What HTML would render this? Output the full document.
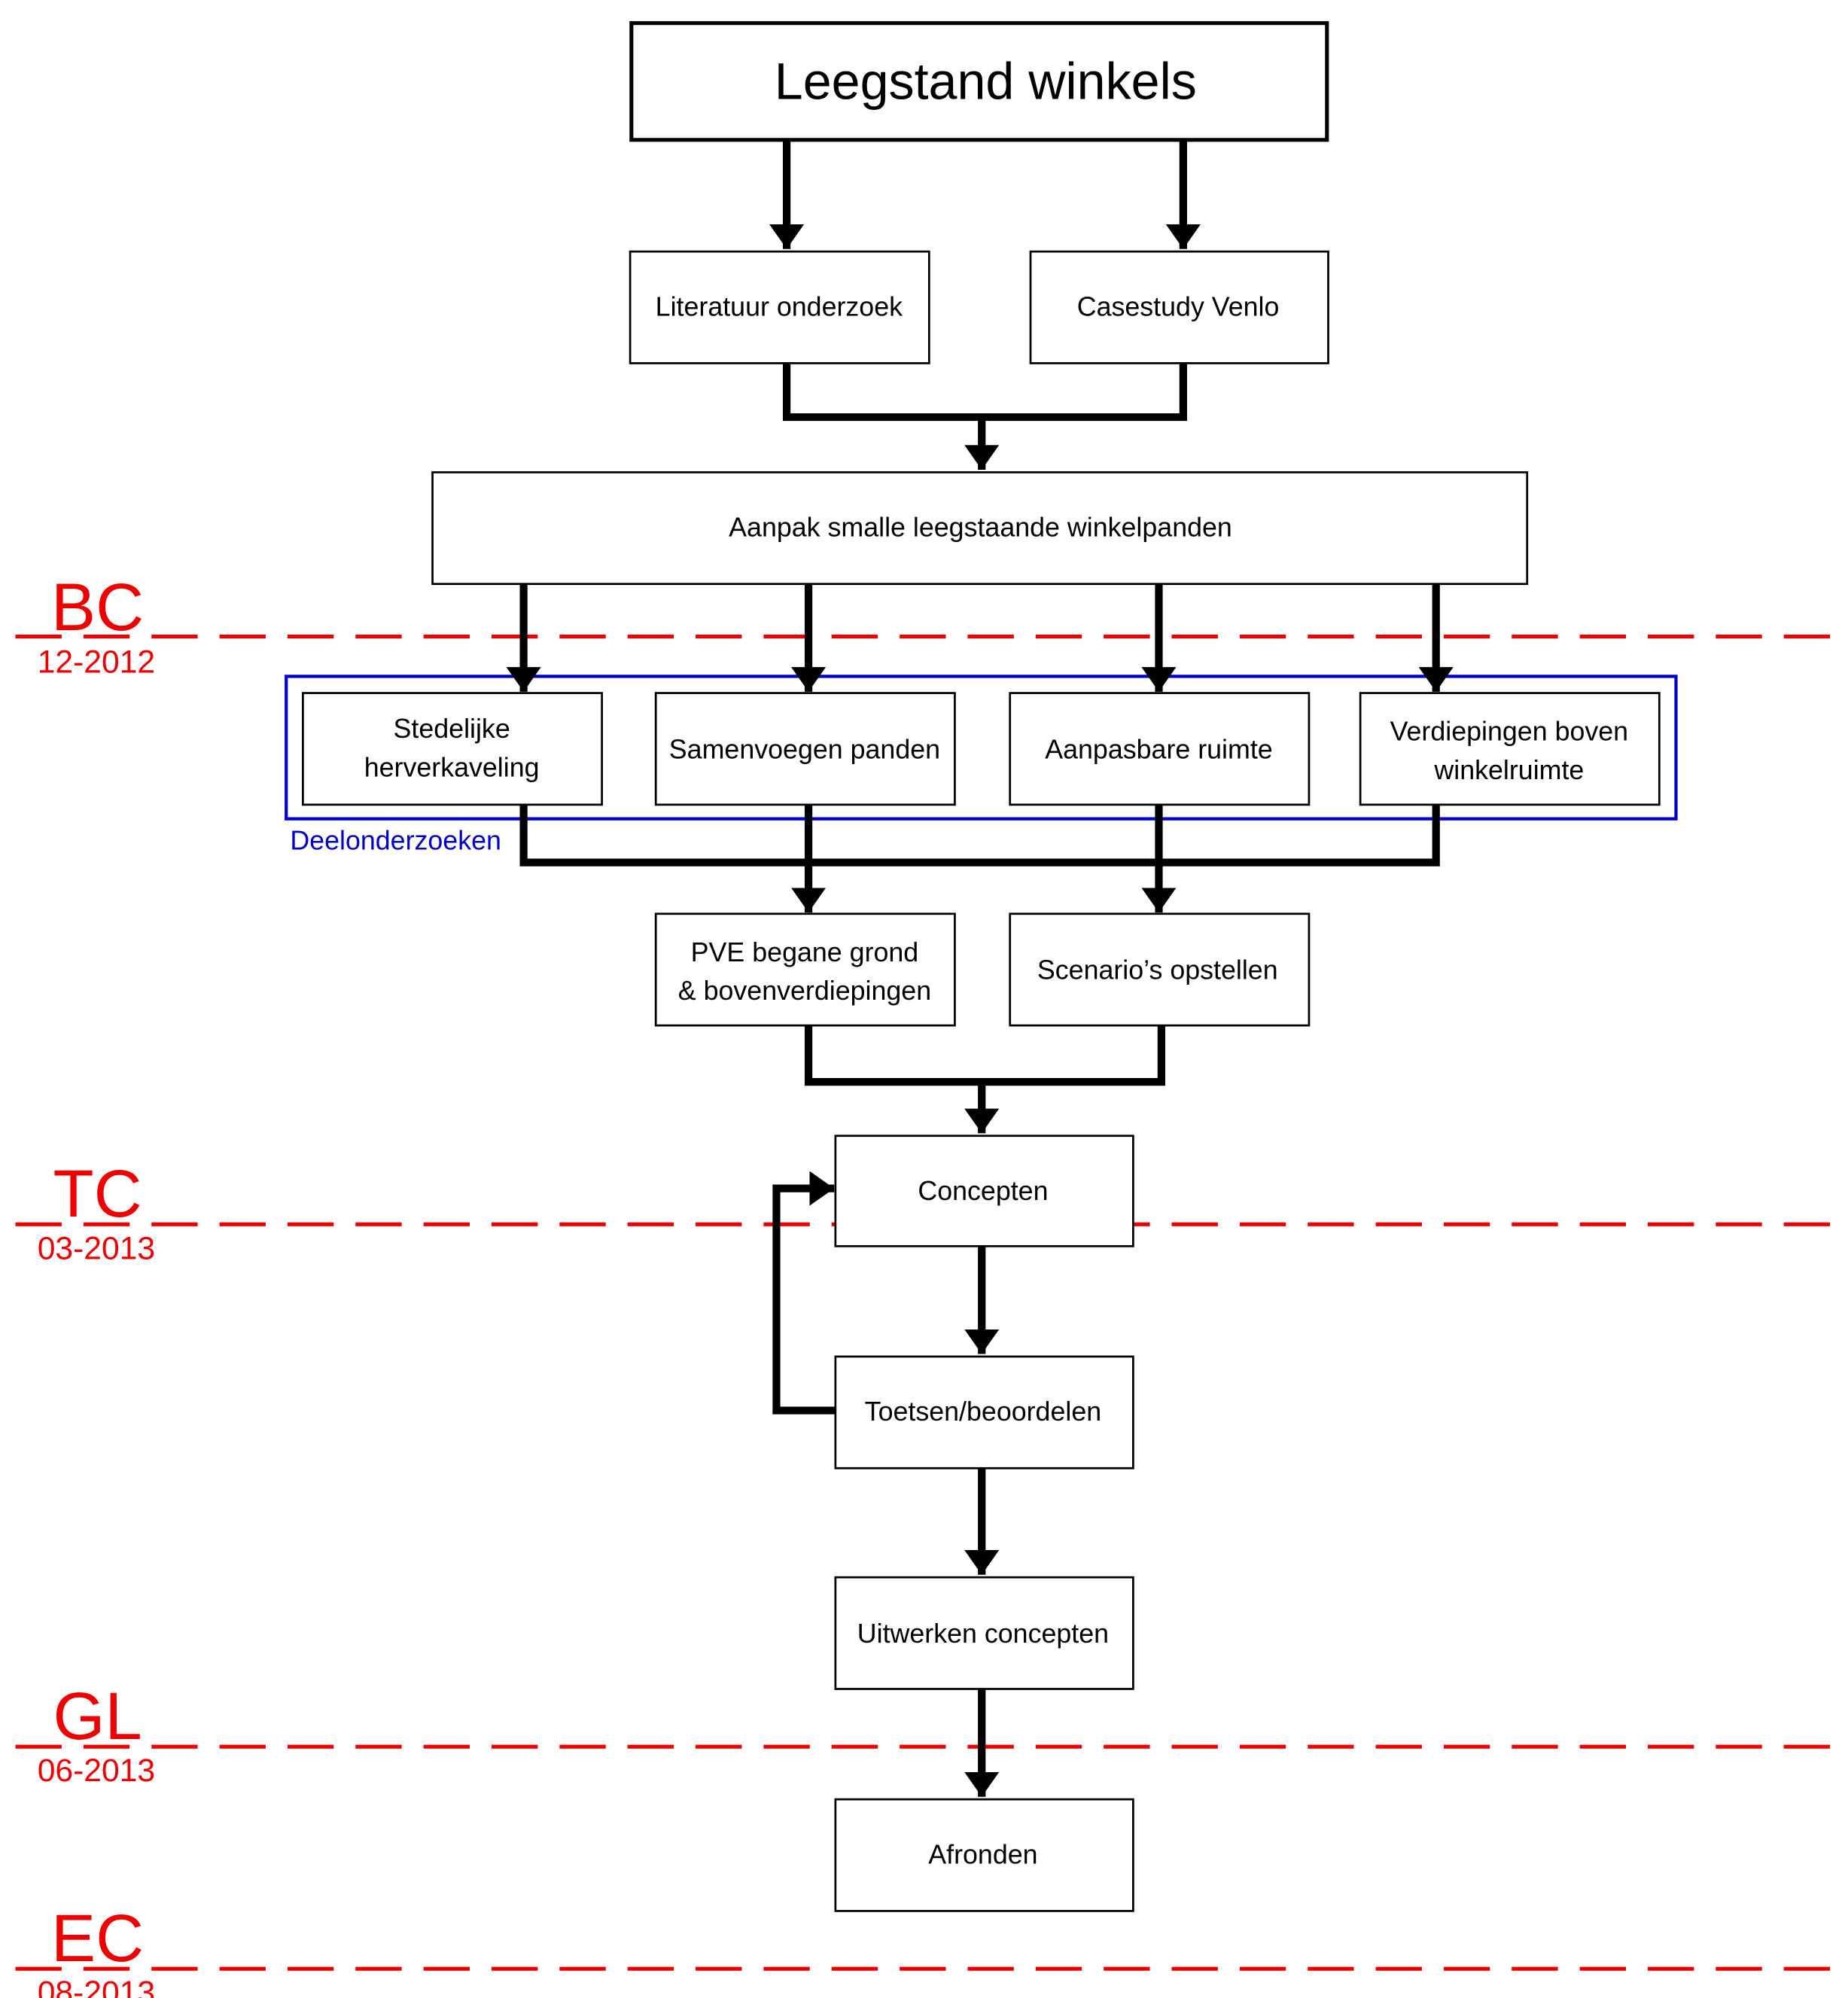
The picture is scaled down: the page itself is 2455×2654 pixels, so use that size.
<!DOCTYPE html>
<html><head><meta charset="utf-8"><style>html,body{margin:0;padding:0;background:#fff}svg{display:block}</style></head>
<body>
<svg xmlns="http://www.w3.org/2000/svg" width="2455" height="2654" viewBox="0 0 1440 1556.8">
<defs>
<marker id="a" viewBox="0 0 10 10" refX="10" refY="5" markerWidth="3.2" markerHeight="4.5" markerUnits="strokeWidth" orient="auto-start-reverse" preserveAspectRatio="none"><path d="M0,0 L10,5 L0,10 z" fill="#000"/></marker>
</defs>
<g font-family="Liberation Sans, sans-serif" text-anchor="middle">
<!-- red milestone lines -->
<g stroke="#e00" stroke-width="3" stroke-dasharray="36 17" fill="none">
<line x1="12" y1="496" x2="1440" y2="496"/>
<line x1="12" y1="954" x2="1440" y2="954"/>
<line x1="12" y1="1361" x2="1440" y2="1361"/>
<line x1="12" y1="1534" x2="1440" y2="1534"/>
</g>
<g fill="#e00">
<text x="76" y="491" font-size="52">BC</text><text x="75" y="524" font-size="25">12-2012</text>
<text x="76" y="948" font-size="52">TC</text><text x="75" y="981" font-size="25">03-2013</text>
<text x="76" y="1355" font-size="52">GL</text><text x="75" y="1388" font-size="25">06-2013</text>
<text x="76" y="1528" font-size="52">EC</text><text x="75" y="1561" font-size="25">08-2013</text>
</g>
<!-- blue group -->
<rect x="223" y="527" width="1083" height="111" fill="none" stroke="#00c" stroke-width="2.5"/>
<text x="226" y="662" font-size="21" fill="#00c" text-anchor="start">Deelonderzoeken</text>
<!-- connectors -->
<g stroke="#000" stroke-width="6" fill="none">
<line x1="613" y1="109" x2="613" y2="194" marker-end="url(#a)"/>
<line x1="922" y1="109" x2="922" y2="194" marker-end="url(#a)"/>
<polyline points="613,283 613,325 922,325 922,283"/>
<line x1="765" y1="325" x2="765" y2="366" marker-end="url(#a)"/>
<line x1="408" y1="455" x2="408" y2="539" marker-end="url(#a)"/>
<line x1="630" y1="455" x2="630" y2="539" marker-end="url(#a)"/>
<line x1="903" y1="455" x2="903" y2="539" marker-end="url(#a)"/>
<line x1="1119" y1="455" x2="1119" y2="539" marker-end="url(#a)"/>
<polyline points="408,627 408,672 1119,672 1119,627"/>
<line x1="630" y1="627" x2="630" y2="711" marker-end="url(#a)"/>
<line x1="903" y1="627" x2="903" y2="711" marker-end="url(#a)"/>
<polyline points="630,799 630,843 905,843 905,799"/>
<line x1="765" y1="843" x2="765" y2="883" marker-end="url(#a)"/>
<line x1="765" y1="971" x2="765" y2="1055" marker-end="url(#a)"/>
<polyline points="651,1099 605,1099 605,926 650,926" marker-end="url(#a)"/>
<line x1="765" y1="1144" x2="765" y2="1227" marker-end="url(#a)"/>
<line x1="765" y1="1316" x2="765" y2="1400" marker-end="url(#a)"/>
</g>
<!-- boxes -->
<g fill="#fff" stroke="#000" stroke-width="1.6">
<rect x="492" y="18" width="542" height="91" stroke-width="3"/>
<rect x="491" y="196" width="233" height="87"/>
<rect x="803" y="196" width="232" height="87"/>
<rect x="337" y="368" width="853" height="87"/>
<rect x="236" y="540" width="233" height="87"/>
<rect x="511" y="540" width="233" height="87"/>
<rect x="787" y="540" width="233" height="87"/>
<rect x="1060" y="540" width="233" height="87"/>
<rect x="511" y="712" width="233" height="87"/>
<rect x="787" y="712" width="233" height="87"/>
<rect x="651" y="885" width="232" height="86"/>
<rect x="651" y="1057" width="232" height="87"/>
<rect x="651" y="1229" width="232" height="87"/>
<rect x="651" y="1402" width="232" height="87"/>
</g>
<g fill="#000" font-size="21">
<text x="768" y="77" font-size="40">Leegstand winkels</text>
<text x="607" y="246">Literatuur onderzoek</text>
<text x="918" y="246">Casestudy Venlo</text>
<text x="764" y="418">Aanpak smalle leegstaande winkelpanden</text>
<text x="352" y="575">Stedelijke</text><text x="352" y="605">herverkaveling</text>
<text x="627" y="591">Samenvoegen panden</text>
<text x="903" y="591">Aanpasbare ruimte</text>
<text x="1176" y="577">Verdiepingen boven</text><text x="1176" y="607">winkelruimte</text>
<text x="627" y="749">PVE begane grond</text><text x="627" y="779">&amp; bovenverdiepingen</text>
<text x="902" y="763">Scenario’s opstellen</text>
<text x="766" y="935">Concepten</text>
<text x="766" y="1107">Toetsen/beoordelen</text>
<text x="766" y="1280">Uitwerken concepten</text>
<text x="766" y="1452">Afronden</text>
</g>
</g>
</svg>
</body></html>
